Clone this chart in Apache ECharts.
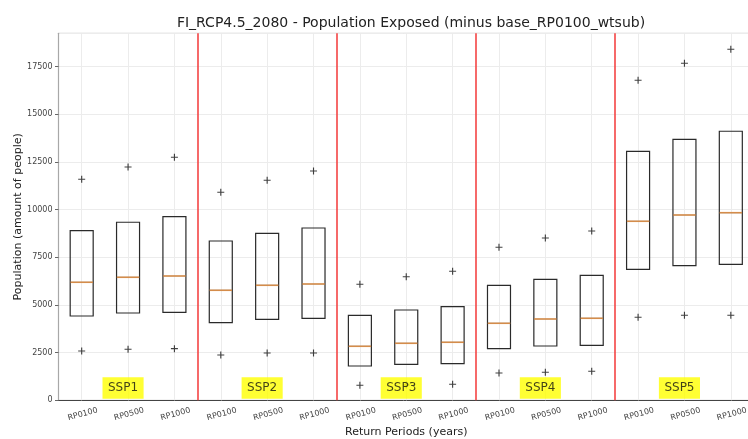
<!DOCTYPE html>
<html>
<head>
<meta charset="utf-8">
<script src="https://cdn.jsdelivr.net/npm/echarts@6/dist/echarts.min.js"></script>
<style>html,body{margin:0;padding:0;background:#fff;}#c{width:748px;height:439px;}</style>
</head>
<body>
<div id="c"></div>
<script>
const periods = ['RP0100','RP0500','RP1000'];
const groups = ['SSP1','SSP2','SSP3','SSP4','SSP5'];
const categories = [];
groups.forEach(() => periods.forEach(p => categories.push(p)));
const q1 = [4420, 4577, 4614, 4069, 4247, 4299, 1798, 1887, 1919, 2706, 2847, 2884, 6868, 7057, 7130];
const median = [6187, 6449, 6517, 5767, 6029, 6098, 2831, 2988, 3041, 4037, 4263, 4299, 9385, 9715, 9836];
const q3 = [8892, 9333, 9626, 8352, 8756, 9034, 4457, 4734, 4907, 6029, 6344, 6554, 13055, 13684, 14104];
const outHigh = [11587, 12232, 12740, 10905, 11535, 12022, 6082, 6480, 6763, 8022, 8509, 8876, 16778, 17669, 18403];
const outLow = [2585, 2674, 2706, 2375, 2480, 2480, 786, 800, 839, 1431, 1468, 1520, 4352, 4457, 4457];
const yTicks = [0, 2500, 5000, 7500, 10000, 12500, 15000, 17500];

const FONT = 'DejaVu Sans';
const boxData = categories.map((c, i) => [q1[i], q1[i], median[i], q3[i], q3[i]]);
const medData = categories.map((c, i) => [i, median[i]]);
const outData = [];
categories.forEach((c, i) => { outData.push([i, outHigh[i]]); outData.push([i, outLow[i]]); });
const sepData = groups.slice(1).map((g, k) => ({ xAxis: (k + 1) * periods.length - 0.5 }));
const vGrid = categories.map((c, i) => ({ xAxis: i }));
const groupLabels = groups.map((g, k) => ({ value: [k * periods.length + 1, 650], name: g }));
const plus = 'path://M4.2,0h1.6v4.2h4.2v1.6h-4.2v4.2h-1.6v-4.2h-4.2v-1.6h4.2z';

const chart = echarts.init(document.getElementById('c'), null, { renderer: 'canvas' });
chart.setOption({
  animation: false,
  backgroundColor: '#fff',
  textStyle: { fontFamily: FONT },
  title: {
    text: 'FI_RCP4.5_2080 - Population Exposed (minus base_RP0100_wtsub)',
    left: 406, top: 11, textAlign: 'center',
    textStyle: { fontFamily: FONT, fontSize: 14, fontWeight: 'normal', color: '#222' }
  },
  grid: { left: 58.5, right: -6, top: 33.3, bottom: 38.7, show: true, borderColor: '#c4c4c4', borderWidth: 1,
    containLabel: false, outerBoundsMode: 'none' },
  xAxis: [{
    type: 'category', data: categories, boundaryGap: true,
    name: 'Return Periods (years)', nameLocation: 'middle', nameGap: 26, nameMoveOverlap: false,
    nameTextStyle: { fontFamily: FONT, fontSize: 11, color: '#222' },
    axisLine: { onZero: false, lineStyle: { color: '#444', width: 1 } },
    axisTick: { alignWithLabel: true, length: 3.5, lineStyle: { color: '#444' } },
    axisLabel: { rotate: 15, align: 'center', verticalAlign: 'top', margin: 10, fontSize: 8, color: '#444', fontFamily: FONT, interval: 0 },
    splitLine: { show: false }
  }, {
    type: 'value', min: -0.5, max: 14.5, show: false
  }],
  yAxis: {
    type: 'value', min: 0, max: 19240, interval: 2500,
    name: 'Population (amount of people)', nameLocation: 'middle', nameGap: 35, nameMoveOverlap: false,
    nameTextStyle: { fontFamily: FONT, fontSize: 11, color: '#222' },
    axisLine: { show: true, onZero: false, lineStyle: { color: '#a8a8a8', width: 1.2 } },
    axisTick: { show: true, length: 3.5, lineStyle: { color: '#666' } },
    axisLabel: { fontSize: 8, color: '#444', fontFamily: FONT, margin: 6, showMaxLabel: false,
      formatter: v => (yTicks.indexOf(v) >= 0 ? String(v) : '') },
    splitLine: { lineStyle: { color: '#ececec', width: 1 } }
  },
  series: [
    {
      type: 'line', xAxisIndex: 1, data: [], silent: true,
      markLine: { silent: true, symbol: 'none', label: { show: false }, z: 1,
        lineStyle: { color: '#ececec', width: 1, type: 'solid' }, data: vGrid }
    },
    {
      type: 'boxplot', xAxisIndex: 0, data: boxData, boxWidth: [23, 23], z: 3,
      itemStyle: { color: 'rgba(0,0,0,0)', borderColor: '#2a2a2a', borderWidth: 1.2 }
    },
    {
      type: 'scatter', xAxisIndex: 0, data: medData, symbol: 'rect', symbolSize: [22.5, 1.6], z: 4,
      itemStyle: { color: '#ffa552' }
    },
    {
      type: 'scatter', xAxisIndex: 0, data: outData, symbol: plus, symbolSize: 7, z: 4,
      itemStyle: { color: '#111' }
    },
    {
      type: 'line', xAxisIndex: 1, data: [], silent: true,
      markLine: { silent: true, symbol: 'none', label: { show: false }, z: 5,
        lineStyle: { color: '#f44444', width: 1.6, type: 'solid' }, data: sepData }
    },
    {
      type: 'scatter', xAxisIndex: 1, data: groupLabels, symbolSize: 0, z: 6,
      label: { show: true, position: 'inside', offset: [-5, 0], formatter: p => p.name,
        backgroundColor: '#ffff00', color: '#111', fontFamily: FONT, fontSize: 12,
        padding: [5, 5.5, 4.5, 5.5] }
    }
  ]
});
</script>
</body>
</html>
